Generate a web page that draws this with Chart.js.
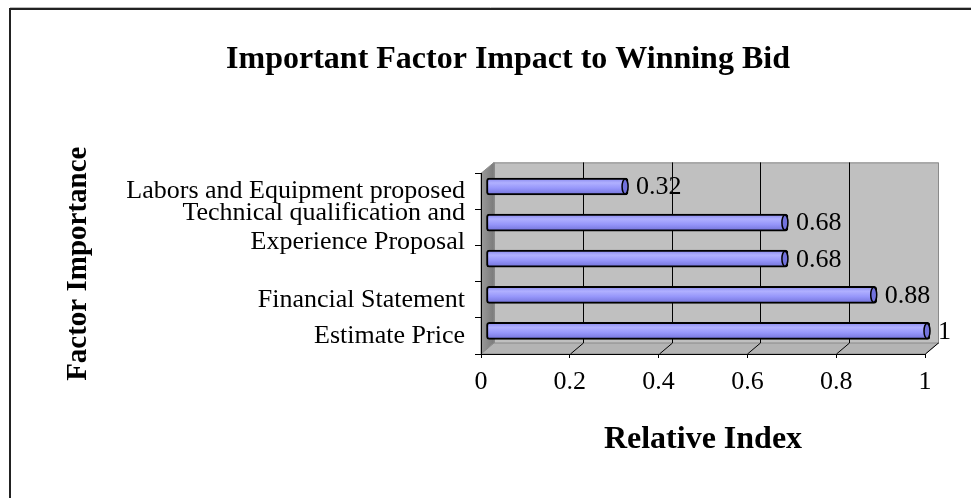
<!DOCTYPE html>
<html>
<head>
<meta charset="utf-8">
<script src="https://cdn.jsdelivr.net/npm/chart.js@4.4.1/dist/chart.umd.min.js"></script>
<style>
  html, body { margin: 0; padding: 0; background: #fff; }
  #wrap { width: 971px; height: 498px; }
</style>
</head>
<body>
<div id="wrap"><canvas id="factorChart" width="971" height="498"></canvas></div>
<script>
// data (first category = bottom bar)
const categories = [
    'Estimate Price',
    'Financial Statement',
    '',
    ['Technical qualification and', 'Experience Proposal'],
    'Labors and Equipment proposed'
];
const relativeIndex = [1, 0.88, 0.68, 0.68, 0.32];
const xTicks = [0, 0.2, 0.4, 0.6, 0.8, 1];

const SERIF = "'Liberation Serif', 'Times New Roman', serif";
const DEPTH = { x: 13, y: -11 };   // back wall offset
const BAR_SHIFT = { x: 5, y: -5 }; // bars sit half way into the box

// frame line round the chart
const framePlugin = {
    id: 'frame',
    beforeDraw(chart) {
        const ctx = chart.ctx;
        ctx.save();
        ctx.strokeStyle = '#bbbbbb';
        ctx.lineWidth = 1;
        ctx.beginPath(); ctx.moveTo(10, 7.5); ctx.lineTo(971, 7.5); ctx.stroke();
        ctx.strokeStyle = '#222';
        ctx.lineWidth = 2;
        ctx.beginPath();
        ctx.moveTo(10, 498); ctx.lineTo(10, 9); ctx.lineTo(971, 9);
        ctx.stroke();
        ctx.restore();
    }
};

// the grey 3d box behind the bars
const boxPlugin = {
    id: 'box3d',
    beforeDraw(chart) {
        const { ctx, chartArea: a, scales } = chart;
        const dx = DEPTH.x, dy = DEPTH.y;
        ctx.save();
        // back wall
        ctx.fillStyle = '#c0c0c0';
        ctx.fillRect(a.left + dx, a.top + dy, a.right - a.left, a.bottom - a.top);
        ctx.strokeStyle = '#8a8a8a';
        ctx.lineWidth = 1;
        ctx.strokeRect(a.left + dx + 0.5, a.top + dy + 0.5, a.right - a.left, a.bottom - a.top);
        // left side wall
        const g = ctx.createLinearGradient(a.left, 0, a.left + dx, 0);
        g.addColorStop(0, '#9a9a9a');
        g.addColorStop(1, '#7a7a7a');
        ctx.fillStyle = g;
        ctx.beginPath();
        ctx.moveTo(a.left, a.top);
        ctx.lineTo(a.left + dx, a.top + dy);
        ctx.lineTo(a.left + dx, a.bottom + dy);
        ctx.lineTo(a.left, a.bottom);
        ctx.closePath();
        ctx.fill();
        ctx.stroke();
        // floor
        ctx.fillStyle = '#b4b4b4';
        ctx.beginPath();
        ctx.moveTo(a.left, a.bottom);
        ctx.lineTo(a.left + dx, a.bottom + dy);
        ctx.lineTo(a.right + dx, a.bottom + dy);
        ctx.lineTo(a.right, a.bottom);
        ctx.closePath();
        ctx.fill();
        ctx.stroke();
        // grid lines on back wall and floor
        ctx.strokeStyle = '#000';
        ctx.lineWidth = 1;
        xTicks.forEach(v => {
            if (v === 0) return;
            const px = Math.round(scales.x.getPixelForValue(v)) + 0.5;
            ctx.beginPath();
            if (v < 1) {
                ctx.moveTo(px + dx, a.top + dy);
                ctx.lineTo(px + dx, a.bottom + dy);
            }
            ctx.moveTo(px, a.bottom);
            ctx.lineTo(px + dx, a.bottom + dy);
            ctx.stroke();
        });
        ctx.restore();
    },
    beforeDatasetsDraw(chart) {
        chart.ctx.save();
        chart.ctx.translate(BAR_SHIFT.x, BAR_SHIFT.y);
    },
    afterDatasetsDraw(chart) {
        const ctx = chart.ctx;
        const meta = chart.getDatasetMeta(0);
        meta.data.forEach((bar, i) => {
            const h = bar.height / 2 - 1;
            // end cap of the cylinder
            ctx.beginPath();
            ctx.ellipse(bar.x - 3, bar.y, 3, h, 0, 0, Math.PI * 2);
            ctx.fillStyle = '#7272dc';
            ctx.fill();
            ctx.lineWidth = 1.5;
            ctx.strokeStyle = '#000';
            ctx.stroke();
            // value label
            ctx.fillStyle = '#000';
            ctx.font = '26px ' + SERIF;
            ctx.textBaseline = 'middle';
            ctx.textAlign = 'left';
            ctx.fillText(String(relativeIndex[i]), bar.x + 8, bar.y + 1);
        });
        ctx.restore();
    }
};

const ctx = document.getElementById('factorChart').getContext('2d');
const factorChart = new Chart(ctx, {
    type: 'bar',
    data: {
        labels: categories,
        datasets: [{
            label: 'Relative Index',
            data: relativeIndex,
            backgroundColor: (c) => {
                const chart = c.chart;
                if (!chart.chartArea) return '#9999ff';
                const yc = chart.scales.y.getPixelForValue(c.dataIndex);
                const g = chart.ctx.createLinearGradient(0, yc - 9, 0, yc + 9);
                g.addColorStop(0, '#8080ea');
                g.addColorStop(0.3, '#b0b0ff');
                g.addColorStop(0.6, '#9696fa');
                g.addColorStop(1, '#6e6ed6');
                return g;
            },
            borderColor: '#000',
            borderWidth: 2,
            borderSkipped: false,
            borderRadius: 3,
            barThickness: 17
        }]
    },
    options: {
        indexAxis: 'y',
        responsive: false,
        animation: false,
        layout: { padding: { left: 45, top: 0, right: 0, bottom: 0 } },
        plugins: {
            legend: { display: false },
            tooltip: { enabled: false },
            title: {
                display: true,
                text: 'Important Factor Impact to Winning Bid',
                color: '#000',
                font: { family: SERIF, size: 32, weight: 'bold' },
                padding: { top: 41, bottom: 94 }
            }
        },
        scales: {
            x: {
                min: 0,
                max: 1,
                afterBuildTicks: (s) => { s.ticks = xTicks.map(v => ({ value: v })); },
                afterFit: (s) => { s.height = 144; },
                grid: { drawOnChartArea: false, drawTicks: true, tickLength: 4, color: '#000' },
                border: { display: true, color: '#000', width: 1 },
                ticks: {
                    color: '#000',
                    padding: 9,
                    maxRotation: 0,
                    font: { family: SERIF, size: 26 },
                    callback: (v) => String(Number(v.toFixed(2)))
                },
                title: {
                    display: true,
                    text: 'Relative Index',
                    color: '#000',
                    font: { family: SERIF, size: 32, weight: 'bold' },
                    padding: { top: 0, bottom: 39 }
                }
            },
            y: {
                reverse: true,
                afterFit: (s) => { s.width = 436; },
                grid: { drawOnChartArea: false, drawTicks: true, tickLength: 6, color: '#000' },
                border: { display: true, color: '#000', width: 1 },
                ticks: {
                    autoSkip: false,
                    color: '#000',
                    padding: 10,
                    font: { family: SERIF, size: 26, lineHeight: 1.1 }
                },
                title: {
                    display: true,
                    text: 'Factor Importance',
                    color: '#000',
                    font: { family: SERIF, size: 29, weight: 'bold' },
                    padding: { top: 16, bottom: 0 }
                }
            },
            pad: {
                type: 'linear',
                position: 'right',
                display: true,
                grid: { display: false },
                border: { display: false },
                ticks: { display: false },
                afterFit: (s) => { s.width = 46; }
            }
        }
    },
    plugins: [framePlugin, boxPlugin]
});
</script>
</body>
</html>
